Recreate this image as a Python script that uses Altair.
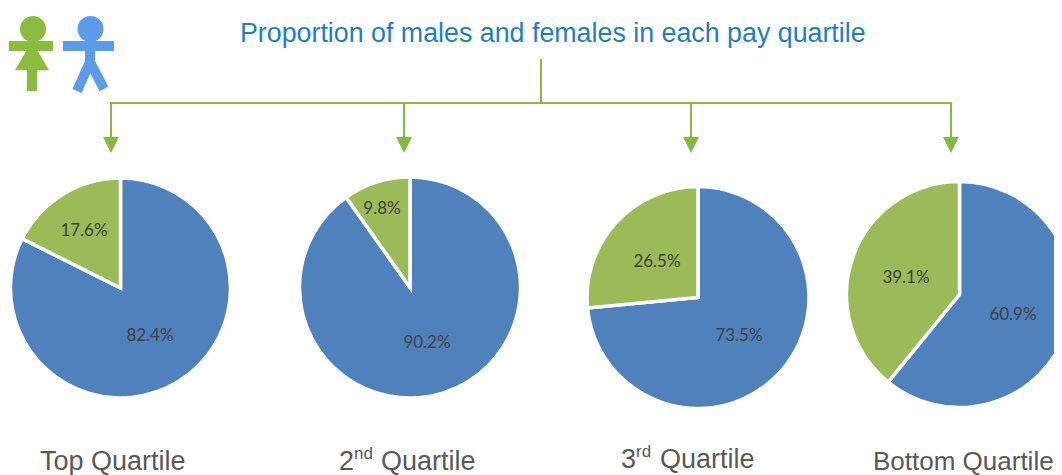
import altair as alt
import pandas as pd

TITLE = "Proportion of males and females in each pay quartile"
GENDERS = ["Male", "Female"]
MALE = [82.4, 90.2, 73.5, 60.9]
FEMALE = [17.6, 9.8, 26.5, 39.1]

BLUE, GREEN = "#4F81BD", "#9BBB59"
LINE = "#86B944"
ICON_G, ICON_B = "#8ABD3F", "#5B9BE8"
OFF = 8  # page margin
SANS = "Liberation Sans, Arial, Helvetica, sans-serif"


def X(v):
    return alt.value(v - OFF)


def Y(v):
    return alt.value(v - OFF)


one = pd.DataFrame({"a": [0]})
layers = []


def rule(x1, y1, x2, y2, color=LINE, width=2, cap="butt"):
    layers.append(
        alt.Chart(one)
        .mark_rule(color=color, strokeWidth=width, strokeCap=cap)
        .encode(x=X(x1), x2=X(x2), y=Y(y1), y2=Y(y2))
    )


def symbol(x, y, shape, size, color):
    layers.append(
        alt.Chart(one)
        .mark_point(shape=shape, size=size, filled=True, fill=color, opacity=1, strokeWidth=0)
        .encode(x=X(x), y=Y(y))
    )


def text(x, y, s, size, color, font=SANS, baseline="alphabetic", align="left"):
    layers.append(
        alt.Chart(one)
        .mark_text(text=s, fontSize=size, color=color, font=font, baseline=baseline, align=align)
        .encode(x=X(x), y=Y(y))
    )


# pies
CENTERS = [(120.5, 288, 110), (410, 287.5, 110.5), (698, 297.5, 111), (959.5, 294.5, 113)]
for (cx, cy, r), m, f in zip(CENTERS, MALE, FEMALE):
    df = pd.DataFrame({"gender": GENDERS, "value": [m, f], "ord": [0, 1]})
    layers.append(
        alt.Chart(df)
        .mark_arc(outerRadius=r, stroke="white", strokeWidth=3.5)
        .encode(
            x=X(cx),
            y=Y(cy),
            theta=alt.Theta("value:Q", stack=True, scale=alt.Scale(domain=[0, 100])),
            order=alt.Order("ord:Q"),
            color=alt.Color(
                "gender:N",
                scale=alt.Scale(domain=GENDERS, range=[BLUE, GREEN]),
                legend=None,
            ),
        )
    )

# percentage labels
LABEL_POS = [
    [(150, 335.5), (84, 230.5)],
    [(427, 342.5), (382, 208.5)],
    [(739, 335.5), (657, 261.5)],
    [(1013, 314.5), (906, 277.5)],
]
for pos, m, f in zip(LABEL_POS, MALE, FEMALE):
    text(pos[0][0], pos[0][1], f"{m}%", 17, "#404040", "Lato", "middle", "center")
    text(pos[1][0], pos[1][1], f"{f}%", 17, "#404040", "Lato", "middle", "center")

# connectors
rule(541, 59, 541, 103)
rule(110, 103, 952, 103)
for ax in [111, 404, 691, 951]:
    rule(ax, 103, ax, 138)
    symbol(ax, 145, "M-1,-1L1,-1L0,1Z", 256, LINE)

# title and captions
text(240, 42, TITLE, 26.8, "#1F7EC2")
CAT = "#595959"
text(40, 470, "Top Quartile", 27, CAT)
text(339, 470, "2", 27, CAT)
text(354, 459, "nd", 17, CAT)
text(381, 470, "Quartile", 27, CAT)
text(621, 468, "3", 27, CAT)
text(636, 457, "rd", 17, CAT)
text(660, 468, "Quartile", 27, CAT)
text(873, 470, "Bottom Quartile", 26, CAT)

# girl icon
symbol(33, 29, "circle", 676, ICON_G)
rule(9, 46, 53, 46, ICON_G, 10)
symbol(32, 60, "M-0.3,-0.6L0.3,-0.6L1,0.6L-1,0.6Z", 1156, ICON_G)
rule(32, 68, 32, 91, ICON_G, 10)

# boy icon
symbol(90.5, 29, "circle", 676, ICON_B)
rule(63, 46, 114, 46, ICON_B, 10)
rule(90, 46, 90, 66, ICON_B, 10)
for lx, ly in [(77, 91), (104, 89)]:
    rule(90, 62, lx, ly, ICON_B, 10)

chart = (
    alt.layer(*layers)
    .properties(
        width=1046,
        height=467,
        padding=0,
        autosize=alt.AutoSizeParams(type="none", contains="padding"),
    )
    .configure_view(stroke=None)
)
chart.save("out.html", embed_options={"renderer": "svg", "actions": False})
